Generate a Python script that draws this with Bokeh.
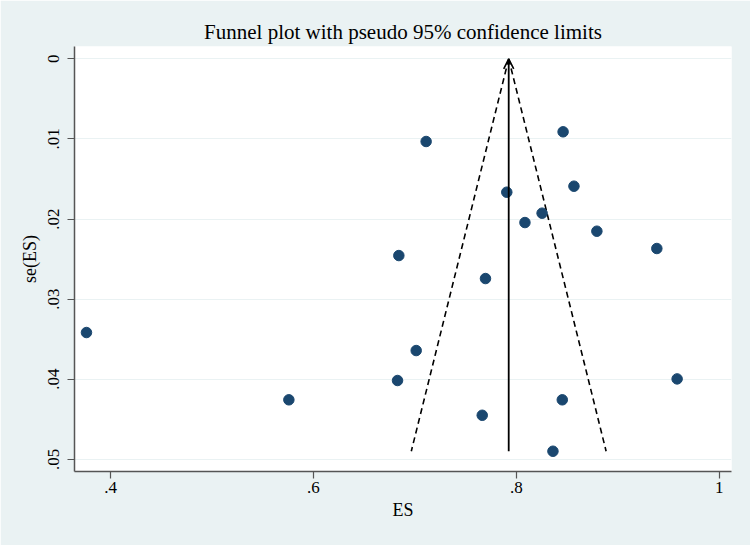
from bokeh.plotting import figure
from bokeh.models import Range1d, FixedTicker, Arrow, OpenHead
from bokeh.embed import file_html
from bokeh.resources import INLINE

# Study effect sizes and standard errors
es = [0.3763, 0.5758, 0.6829, 0.6842, 0.7013, 0.7111, 0.7664, 0.7696, 0.7906,
      0.8085, 0.8254, 0.8361, 0.8453, 0.8461, 0.8568, 0.8794, 0.9385, 0.9585]
se = [0.03417, 0.04257, 0.04016, 0.02456, 0.03642, 0.01032, 0.04450, 0.02743, 0.01665,
      0.02044, 0.01927, 0.04899, 0.04257, 0.00911, 0.01590, 0.02152, 0.02368, 0.03996]
pooled_es = 0.7925

x_ticks = [0.4, 0.6, 0.8, 1.0]
x_tick_labels = [".4", ".6", ".8", "1"]
y_ticks = [0.0, 0.01, 0.02, 0.03, 0.04, 0.05]
y_tick_labels = ["0", ".01", ".02", ".03", ".04", ".05"]

BG = "#eaf2f3"
FONT = "Liberation Serif"

max_se = max(se)
lo = pooled_es - 1.96 * max_se
hi = pooled_es + 1.96 * max_se

p = figure(
    frame_width=657, frame_height=425,
    min_border_left=74, min_border_right=19, min_border_top=46, min_border_bottom=74,
    x_range=Range1d(0.3645, 1.0121), y_range=Range1d(0.05152, -0.00154),
    output_backend="svg", toolbar_location=None,
    title="Funnel plot with pseudo 95% confidence limits",
)
p.background_fill_color = "white"
p.border_fill_color = BG
p.outline_line_color = None

p.title.align = "center"
p.title.text_font = FONT
p.title.text_font_size = "21px"
p.title.text_font_style = "normal"
p.title.text_color = "black"
p.title.offset = 0
p.title.standoff = 6

p.xgrid.visible = False
p.ygrid.ticker = FixedTicker(ticks=y_ticks)
p.ygrid.grid_line_color = BG
p.ygrid.grid_line_width = 1.2

p.xaxis.ticker = FixedTicker(ticks=x_ticks)
p.xaxis.major_label_overrides = dict(zip(x_ticks, x_tick_labels))
p.yaxis.ticker = FixedTicker(ticks=y_ticks)
p.yaxis.major_label_overrides = dict(zip(y_ticks, y_tick_labels))
p.yaxis.major_label_orientation = "vertical"
p.xaxis.axis_label = "ES"
p.yaxis.axis_label = "se(ES)"

for ax in (p.xaxis, p.yaxis):
    ax.axis_line_color = "#555555"
    ax.axis_line_width = 1.5
    ax.major_tick_line_color = "#555555"
    ax.major_tick_line_width = 1.2
    ax.major_tick_out = 7
    ax.major_tick_in = 0
    ax.minor_tick_line_color = None
    ax.major_label_text_font = FONT
    ax.major_label_text_font_size = "17px"
    ax.major_label_text_color = "black"
    ax.axis_label_text_font = FONT
    ax.axis_label_text_font_size = "18px"
    ax.axis_label_text_font_style = "normal"
    ax.axis_label_text_color = "black"
p.xaxis.major_label_standoff = 3
p.yaxis.major_label_standoff = 8
p.xaxis.axis_label_standoff = 4
p.yaxis.axis_label_standoff = 6

# pseudo 95% confidence limits
p.line([pooled_es, lo], [0, max_se], line_color="black", line_dash="6 4", line_width=1.6)
p.line([pooled_es, hi], [0, max_se], line_color="black", line_dash="6 4", line_width=1.6)

# pooled estimate line with arrow
p.add_layout(Arrow(end=OpenHead(size=10, line_width=1.6, line_color="black"),
                   x_start=pooled_es, y_start=max_se, x_end=pooled_es, y_end=0,
                   line_color="black", line_width=1.8))

p.scatter(es, se, size=10.5, fill_color="#1a476f", line_color="#1a476f")

open("out.html", "w").write(file_html(p, INLINE))
